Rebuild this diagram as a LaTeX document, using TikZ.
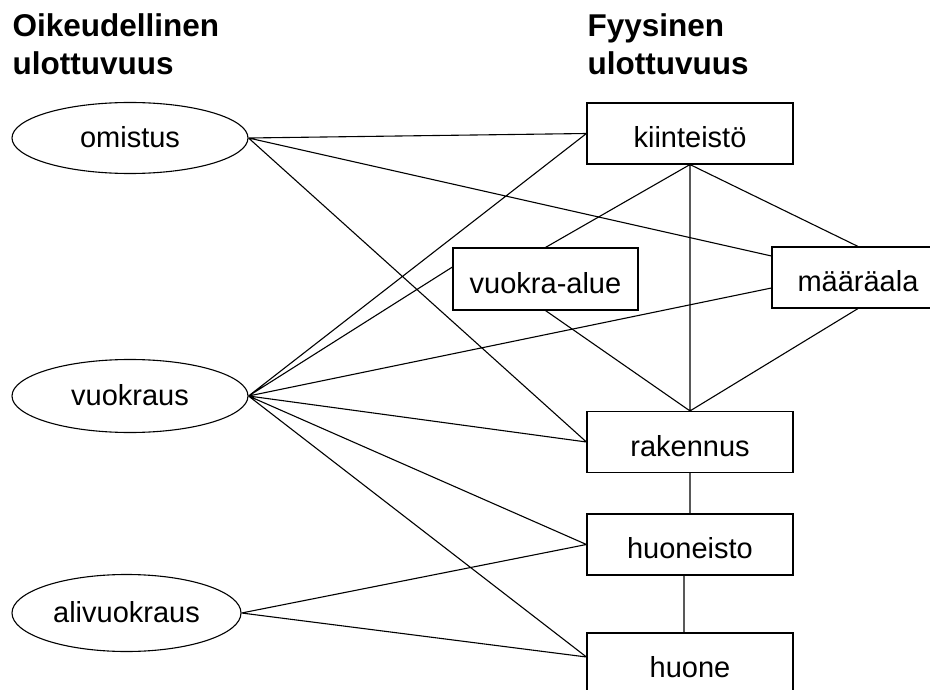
\documentclass[tikz,border=0pt]{standalone}
\usepackage{fontspec}
\setmainfont{Liberation Sans}
\usetikzlibrary{shapes.geometric}

\begin{document}
\begin{tikzpicture}[x=1pt, y=-1pt, line width=1.1pt,
    every node/.style={font=\fontsize{29}{35}\selectfont, inner sep=0pt},
    oikeus/.style={ellipse, draw, minimum width=236pt, minimum height=71pt,
      text height=22pt, text depth=3pt},
    kohde/.style={rectangle, draw, minimum width=206pt, minimum height=61pt,
      text height=28pt, text depth=0pt},
    otsikko/.style={font=\fontsize{31.5}{38}\selectfont\bfseries, anchor=base west, align=left}]
  \clip (0,0) rectangle (930,690);

  % otsikot
  \node[otsikko] (oik1) at (12,37) {Oikeudellinen};
  \node[otsikko] (oik2) at (12,75) {ulottuvuus};
  \node[otsikko] (fyy1) at (587,37) {Fyysinen};
  \node[otsikko] (fyy2) at (587,75) {ulottuvuus};

  % oikeudellinen ulottuvuus
  \node[oikeus] (omistus) at (130,138) {omistus};
  \node[oikeus, minimum height=73pt] (vuokraus) at (130,396) {vuokraus};
  \node[oikeus, minimum width=229pt, minimum height=77pt] (alivuokraus) at (126.5,613) {alivuokraus};

  % fyysinen ulottuvuus
  \node[kohde] (kiinteisto) at (690,133.5) {kiinteistö};
  \node[kohde, minimum width=185pt, minimum height=62pt] (vuokraalue) at (545.5,279) {vuokra-alue};
  \node[kohde, minimum width=172pt] (maaraala) at (858,277.5) {määräala};
  \node[kohde] (rakennus) at (690,442) {rakennus};
  \node[kohde] (huoneisto) at (690,544.5) {huoneisto};
  \node[kohde] (huone) at (690,663.5) {huone};

  \draw
    (omistus.east) -- (kiinteisto.west)
    (omistus.east) -- ([yshift=21.5pt]maaraala.west)
    (omistus.east) -- (rakennus.west)
    (vuokraus.east) -- (kiinteisto.west)
    (vuokraus.east) -- ([yshift=12pt]vuokraalue.west)
    (vuokraus.east) -- ([yshift=-10.5pt]maaraala.west)
    (vuokraus.east) -- (rakennus.west)
    (vuokraus.east) -- (huoneisto.west)
    (vuokraus.east) -- ([yshift=6.5pt]huone.west)
    (alivuokraus.east) -- (huoneisto.west)
    (alivuokraus.east) -- ([yshift=6.5pt]huone.west);

  \draw
    (kiinteisto.south) -- (vuokraalue.north)
    (kiinteisto.south) -- (maaraala.north)
    (kiinteisto.south) -- (rakennus.north)
    (vuokraalue.south) -- (rakennus.north)
    (maaraala.south) -- (rakennus.north)
    (rakennus.south) -- (huoneisto.north)
    ([xshift=-6pt]huoneisto.south) -- ([xshift=-6pt]huone.north);
\end{tikzpicture}
\end{document}
